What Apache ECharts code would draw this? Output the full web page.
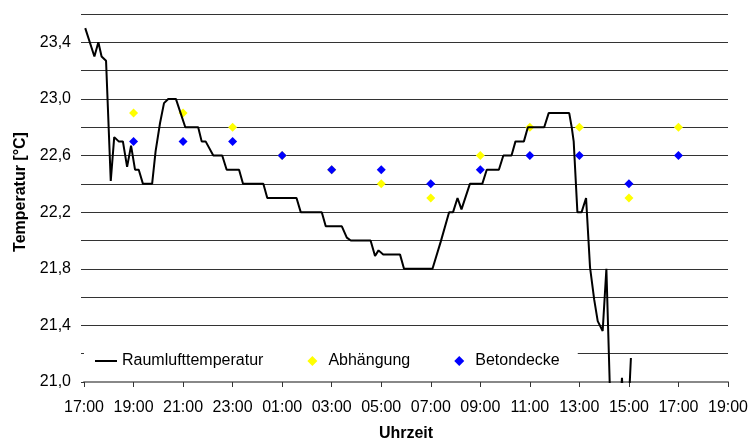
<!DOCTYPE html>
<html>
<head>
<meta charset="utf-8">
<title>Raumlufttemperatur</title>
<script src="https://cdn.jsdelivr.net/npm/echarts@6/dist/echarts.min.js"></script>
<style>
  html, body { margin: 0; padding: 0; background: #fff; }
  #chart { width: 754px; height: 441px; }
</style>
</head>
<body>
<div id="chart"></div>
<script>
// Stunden seit 17:00 (Starttag) und gemessene Raumlufttemperatur
const stunden = [
  0.05, 0.42, 0.58, 0.71, 0.89, 0.94, 1.08, 1.22, 1.40, 1.57,
  1.74, 1.90, 2.06, 2.21, 2.38, 2.75, 2.89, 3.07, 3.23, 3.40,
  3.71, 4.09, 4.61, 4.75, 4.91, 5.22, 5.58, 5.76, 6.26, 6.42,
  7.24, 7.40, 8.58, 8.75, 9.60, 9.76, 10.41, 10.61, 10.77, 11.57,
  11.75, 11.89, 12.08, 12.76, 12.92, 14.07, 14.40, 14.74, 14.90, 15.08,
  15.24, 15.58, 16.08, 16.26, 16.75, 16.93, 17.26, 17.42, 17.76, 17.92,
  18.58, 18.76, 19.59, 19.69, 19.77, 19.92, 20.09, 20.27, 20.43, 20.60,
  20.74, 20.94, 21.09, 21.24, 21.60, 21.72, 21.80, 21.98, 22.08
]
const raumluft = [
  23.50, 23.30, 23.40, 23.30, 23.27, 23.26, 22.42, 22.73, 22.70, 22.70,
  22.52, 22.67, 22.50, 22.50, 22.40, 22.40, 22.63, 22.83, 22.97, 23.00,
  23.00, 22.80, 22.80, 22.70, 22.70, 22.60, 22.60, 22.50, 22.50, 22.40,
  22.40, 22.30, 22.30, 22.20, 22.20, 22.10, 22.10, 22.02, 22.00, 22.00,
  21.89, 21.93, 21.90, 21.90, 21.80, 21.80, 21.99, 22.20, 22.20, 22.30,
  22.22, 22.40, 22.40, 22.50, 22.50, 22.60, 22.60, 22.70, 22.70, 22.80,
  22.80, 22.90, 22.90, 22.80, 22.70, 22.20, 22.20, 22.30, 21.81, 21.58,
  21.43, 21.36, 21.80, 20.90, 20.70, 21.03, 20.70, 20.80, 21.17
]

// Oberflaechentemperaturen, alle 2 Stunden
const messStunden = [2, 4, 6, 8, 10, 12, 14, 16, 18, 20, 22, 24]
const abhaengung = [22.9, 22.9, 22.8, 22.6, 22.5, 22.4, 22.3, 22.6, 22.8, 22.8, 22.3, 22.8]
const betondecke = [22.7, 22.7, 22.7, 22.6, 22.5, 22.5, 22.4, 22.5, 22.6, 22.6, 22.4, 22.6]

const font = 'Liberation Sans, Arial, sans-serif'
// Raute mittig in einem 22x11-Rahmen (leere Teilpfade spannen den Rahmen auf)
const rauteIcon = 'path://M0,0L0,0M22,11L22,11M11,0.5L16,5.5L11,10.5L6,5.5Z'

const zip = (xs, ys) => xs.map((x, i) => [x, ys[i]])

const uhrzeit = v => {
  const h = (17 + Math.round(v)) % 24
  return (h < 10 ? '0' : '') + h + ':00'
}

const chart = echarts.init(document.getElementById('chart'))
chart.setOption({
  animation: false,
  textStyle: { fontFamily: font },
  grid: { left: 84, right: 26, top: 14, bottom: 59, outerBoundsMode: 'none' },
  legend: {
    left: 84,
    top: 347,
    padding: [6, 18, 6, 11],
    backgroundColor: '#fff',
    itemWidth: 22,
    itemHeight: 11,
    itemGap: 38,
    symbolKeepAspect: true,
    textStyle: { fontFamily: font, fontSize: 16, color: '#000' },
    data: [
      { name: 'Raumlufttemperatur', icon: 'path://M0,0H22V2H0Z' },
      { name: 'Abhängung', icon: rauteIcon },
      { name: 'Betondecke', icon: rauteIcon }
    ]
  },
  xAxis: {
    type: 'value',
    min: 0,
    max: 26,
    interval: 2,
    name: 'Uhrzeit',
    nameLocation: 'middle',
    nameGap: 44,
    nameTextStyle: { fontFamily: font, fontSize: 16, fontWeight: 'bold', color: '#000' },
    axisLine: { lineStyle: { color: '#888', width: 2 } },
    axisTick: { length: 5, lineStyle: { color: '#333' } },
    axisLabel: { fontFamily: font, fontSize: 16, color: '#000', margin: 18, formatter: uhrzeit },
    splitLine: { show: false }
  },
  yAxis: {
    type: 'value',
    min: 21,
    max: 23.6,
    interval: 0.2,
    name: 'Temperatur [°C]',
    nameLocation: 'middle',
    nameGap: 55,
    nameTextStyle: {
      fontFamily: font, fontSize: 16, fontWeight: 'bold', color: '#000',
      padding: [0, 0, 0, 12]
    },
    axisLine: { show: false },
    axisTick: { show: true, length: 3, lineStyle: { color: '#333' } },
    axisLabel: {
      fontFamily: font,
      fontSize: 16,
      color: '#000',
      margin: 13,
      formatter: v => {
        const k = Math.round((v - 21) / 0.2)
        return k % 2 === 0 ? v.toFixed(1).replace('.', ',') : ''
      }
    },
    splitLine: { lineStyle: { color: '#333', width: 1 } }
  },
  series: [
    {
      name: 'Raumlufttemperatur',
      type: 'line',
      symbol: 'none',
      clip: true,
      data: zip(stunden, raumluft),
      lineStyle: { color: '#000', width: 2 },
      itemStyle: { color: '#000' }
    },
    {
      name: 'Abhängung',
      type: 'scatter',
      symbol: 'diamond',
      symbolSize: 9,
      data: zip(messStunden, abhaengung),
      itemStyle: { color: '#ffff00', opacity: 1 }
    },
    {
      name: 'Betondecke',
      type: 'scatter',
      symbol: 'diamond',
      symbolSize: 9,
      data: zip(messStunden, betondecke),
      itemStyle: { color: '#0000ff', opacity: 1 }
    }
  ]
})
</script>
</body>
</html>
